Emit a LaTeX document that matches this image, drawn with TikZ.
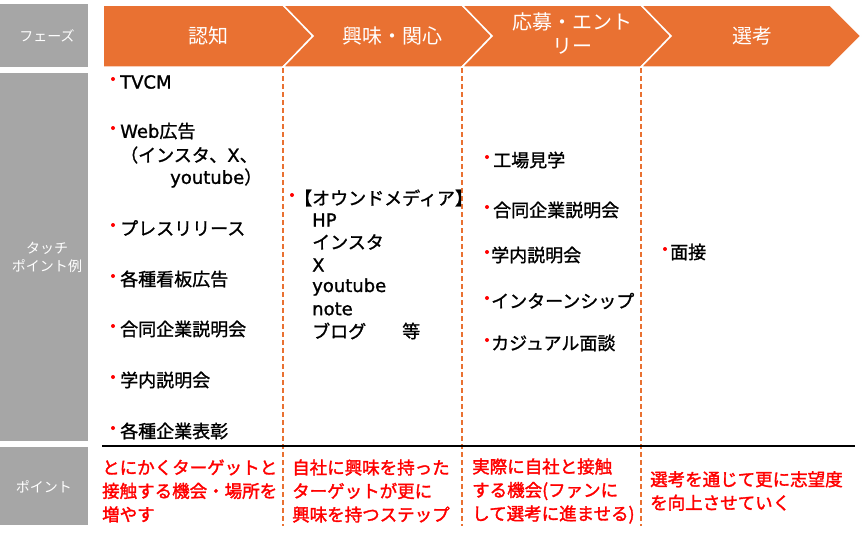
\documentclass[tikz,border=0pt]{standalone}
\usepackage{fontspec}
\setmainfont[FakeBold=1.2]{Noto Sans CJK JP}
\newfontfamily\lat[FakeBold=1.2]{DejaVu Sans}
\newfontfamily\redjp[FakeBold=1.8]{Noto Sans CJK JP}
\newfontfamily\plainjp{Noto Sans CJK JP}
\definecolor{org}{HTML}{E97132}
\definecolor{gry}{HTML}{A6A6A6}
\definecolor{rd}{HTML}{FF0000}
\tikzset{
  graybox/.style={fill=gry, draw=none},
  graylabel/.style={text=white, font=\plainjp\fontsize{14}{18}\selectfont, align=center, inner sep=0pt},
  chevron/.style={fill=org, draw=white, line width=1.5pt, line join=miter},
  phase/.style={text=white, font=\plainjp\fontsize{20}{24}\selectfont, align=center, inner sep=0pt},
  item/.style={anchor=west, inner sep=0pt, font=\fontsize{18}{22.5}\selectfont, align=left},
  bdot/.style={circle, fill=rd, draw=none, inner sep=0pt, minimum size=4pt},
  pointtext/.style={anchor=west, inner sep=0pt, text=rd, font=\redjp\fontsize{17.5}{23.5}\selectfont, align=left},
  sepline/.style={draw=org, dash pattern=on 5pt off 3pt, line width=1.4pt},
  rule/.style={draw=black, line width=1.2pt}
}
\begin{document}
\begin{tikzpicture}[x=1pt,y=-1pt]
\useasboundingbox (0,0) rectangle (864,533);
% gray column
\fill[graybox] (0,4) rectangle (88,67);
\fill[graybox] (0,73) rectangle (88,441);
\fill[graybox] (0,447) rectangle (88,525);
\node[graylabel] (lphase) at (47,36) {フェーズ};
\node[graylabel] (ltouch) at (47,257) {タッチ\\ポイント例};
\node[graylabel] (lpoint) at (44,487) {ポイント};
% chevrons
\draw[chevron] (103,5) -- (283,5) -- (313,36) -- (283,67) -- (103,67) -- cycle;
\draw[chevron] (283,5) -- (462,5) -- (492,36) -- (462,67) -- (283,67) -- (313,36) -- cycle;
\draw[chevron] (462,5) -- (641,5) -- (671,36) -- (641,67) -- (462,67) -- (492,36) -- cycle;
\draw[chevron] (641,5) -- (830,5) -- (861,36) -- (830,67) -- (641,67) -- (671,36) -- cycle;
\node[phase] (p1) at (208,36) {認知};
\node[phase] (p2) at (392,36) {興味・関心};
\node[phase] (p3) at (572,34) {応募・エント\\リー};
\node[phase] (p4) at (752,36) {選考};
% separators
\coordinate (s1a) at (283,68); \coordinate (s1b) at (283,526);
\coordinate (s2a) at (462,68); \coordinate (s2b) at (462,526);
\coordinate (s3a) at (641,68); \coordinate (s3b) at (641,526);
\draw[sepline] (s1a) -- (s1b);
\draw[sepline] (s2a) -- (s2b);
\draw[sepline] (s3a) -- (s3b);
\coordinate (ra) at (102,446); \coordinate (rb) at (855,446);
\draw[rule] (ra) -- (rb);
% column 1
\node[bdot] (d11) at (113,79) {}; \node[item] (c11) at (120,82) {\lat TVCM};
\node[bdot] (d12) at (113,128) {}; \node[item] (c12) at (120,131) {{\lat Web}広告};
\node[item] (c12b) at (120,155) {（インスタ、{\lat X}、};
\node[item] (c12c) at (170,178) {{\lat youtube}）};
\node[bdot] (d13) at (113,225) {}; \node[item] (c13) at (120,228) {プレスリリース};
\node[bdot] (d14) at (113,276) {}; \node[item] (c14) at (120,279) {各種看板広告};
\node[bdot] (d15) at (113,326) {}; \node[item] (c15) at (120,329) {合同企業説明会};
\node[bdot] (d16) at (113,377) {}; \node[item] (c16) at (120,380) {学内説明会};
\node[bdot] (d17) at (113,428) {}; \node[item] (c17) at (120,431) {各種企業表彰};
% column 2
\node[bdot] (d21) at (292,195) {}; \node[item] (c21) at (294,198) {【オウンドメディア】};
\node[item] (c22) at (312,220) {\lat HP};
\node[item] (c23) at (312,242) {インスタ};
\node[item] (c24) at (312,265) {\lat X};
\node[item] (c25) at (312,287) {\lat youtube};
\node[item] (c26) at (312,309) {\lat note};
\node[item] (c27) at (312,331) {ブログ};
\node[item] (c28) at (402,331) {等};
% column 3
\node[bdot] (d31) at (487,157) {}; \node[item] (c31) at (493,160) {工場見学};
\node[bdot] (d32) at (487,207) {}; \node[item] (c32) at (493,210) {合同企業説明会};
\node[bdot] (d33) at (487,252) {}; \node[item] (c33) at (491,255) {学内説明会};
\node[bdot] (d34) at (487,298) {}; \node[item] (c34) at (491,301) {インターンシップ};
\node[bdot] (d35) at (487,340) {}; \node[item] (c35) at (491,343) {カジュアル面談};
% column 4
\node[bdot] (d41) at (665,249) {}; \node[item] (c41) at (670,252) {面接};
% points row
\node[pointtext] (t1) at (102,491) {とにかくターゲットと\\接触する機会・場所を\\増やす};
\node[pointtext] (t2) at (292,491) {自社に興味を持った\\ターゲットが更に\\興味を持つステップ};
\node[pointtext] (t3) at (472,491) {実際に自社と接触\\する機会(ファンに\\して選考に進ませる)};
\node[pointtext] (t4) at (650,491) {選考を通じて更に志望度\\を向上させていく};
\end{tikzpicture}
\end{document}
